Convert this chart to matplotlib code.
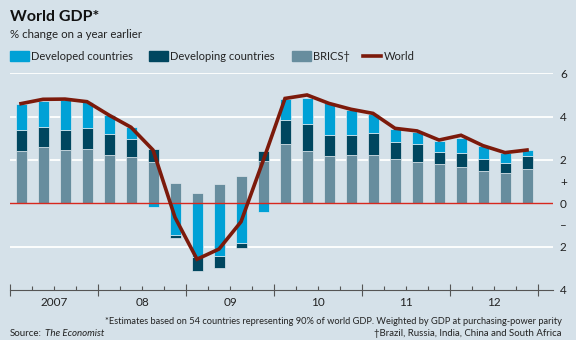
import numpy as np
import matplotlib
matplotlib.use("Agg")
import matplotlib.pyplot as plt
from matplotlib.patches import Rectangle
from matplotlib.lines import Line2D
import matplotlib.transforms as mtransforms

plt.rcParams['font.family'] = ['Lato', 'DejaVu Sans']

# quarterly data, 2007 Q1 - 2012 Q4, % change on a year earlier
quarters = np.arange(24)
brics = [2.43, 2.61, 2.45, 2.50, 2.24, 2.12, 1.92, 0.92, 0.49, 0.89, 1.26, 1.97,
         2.74, 2.40, 2.20, 2.23, 2.24, 2.04, 1.89, 1.80, 1.69, 1.50, 1.40, 1.57]
developing = [0.94, 0.91, 0.93, 0.99, 0.97, 0.83, 0.57, -0.16, -0.63, -0.57, -0.23, 0.46,
              1.10, 1.26, 0.95, 0.94, 0.99, 0.80, 0.83, 0.58, 0.65, 0.54, 0.45, 0.61]
developed = [1.21, 1.22, 1.39, 1.18, 0.85, 0.56, -0.16, -1.46, -2.49, -2.43, -1.85, -0.39,
             0.96, 1.18, 1.46, 1.14, 0.87, 0.59, 0.56, 0.51, 0.69, 0.62, 0.46, 0.28]
world = [4.60, 4.80, 4.81, 4.69, 4.07, 3.51, 2.46, -0.65, -2.58, -2.11, -0.85, 1.95,
         4.84, 5.00, 4.61, 4.34, 4.15, 3.46, 3.34, 2.92, 3.14, 2.66, 2.34, 2.46]
year_labels = ['2007', '08', '09', '10', '11', '12']

bg = '#d5e1e9'
c_developed = '#00a1d6'
c_developing = '#00465f'
c_brics = '#678d9e'
c_world = '#7c1a0b'

brics_a = np.array(brics)
dvg = np.array(developing)
dvd = np.array(developed)

# stacking: positives go up from BRICS, negatives go down from zero
dvg_bottom = np.where(dvg >= 0, brics_a, np.minimum(dvd, 0))
dvd_bottom = np.where(dvd >= 0, brics_a + np.maximum(dvg, 0), 0)

fig = plt.figure(figsize=(5.76, 3.4), dpi=100)
fig.patch.set_facecolor(bg)
ax = fig.add_axes([10 / 576, 1 - 290 / 340, (553 - 10) / 576, (290 - 73.3) / 340])
ax.set_facecolor(bg)

for y in [6, 4, 2, -2]:
    ax.axhline(y, color='white', lw=1.3, zorder=1)
ax.axhline(0, color='#d7281e', lw=1.0, zorder=3)

w = 0.5
kw = dict(width=w, edgecolor='#dfe8ee', linewidth=0.5, zorder=2)
ax.bar(quarters, brics_a, color=c_brics, **kw)
ax.bar(quarters, dvg, bottom=dvg_bottom, color=c_developing, **kw)
ax.bar(quarters, dvd, bottom=dvd_bottom, color=c_developed, **kw)
ax.plot(quarters, world, color=c_world, lw=2.6, zorder=4, solid_joinstyle='miter')

ax.set_xlim(-0.5, 24.18)
ax.set_ylim(-4, 6)

for s in ['top', 'left', 'right']:
    ax.spines[s].set_visible(False)
ax.spines['bottom'].set_color('#555555')
ax.spines['bottom'].set_linewidth(0.8)

ax.set_xticks([-0.5 + 4 * i for i in range(7)])
ax.set_xticks([-0.5 + j for j in range(25)], minor=True)
ax.set_xticklabels([])
ax.tick_params(axis='x', which='major', direction='inout', length=8, width=0.8, color='#555555')
ax.tick_params(axis='x', which='minor', direction='in', length=3, width=0.8, color='#555555')

ax.yaxis.tick_right()
ax.set_yticks([6, 4, 2, 1, 0, -1, -2, -4])
ax.set_yticklabels(['6', '4', '2', '+', '0', '\u2013', '2', '4'])
ax.tick_params(axis='y', length=0, pad=5, labelsize=8.5, labelcolor='#222222')

trans = mtransforms.blended_transform_factory(ax.transData, fig.transFigure)
for i, lab in enumerate(year_labels):
    ax.text(1.5 + 4 * i, 1 - 302 / 340, lab, transform=trans, ha='center', va='center',
            fontsize=8.5, color='#222222')

# title block
fig.text(10 / 576, 1 - 17 / 340, 'World GDP*', fontsize=11.5, fontweight='bold',
         va='center', ha='left', color='#111111')
fig.text(10 / 576, 1 - 34 / 340, '% change on a year earlier', fontsize=8.3,
         va='center', ha='left', color='#222222')

# legend
ly = 1 - 56 / 340
items = [(10, 31, c_developed, 'Developed countries', 'patch'),
         (149, 170, c_developing, 'Developing countries', 'patch'),
         (292, 313, c_brics, 'BRICS\u2020', 'patch'),
         (363, 384, c_world, 'World', 'line')]
for x0, xt, col, lab, kind in items:
    if kind == 'patch':
        fig.patches.append(Rectangle((x0 / 576, ly - 5 / 340), 19 / 576, 10 / 340,
                                     transform=fig.transFigure, color=col))
    else:
        fig.lines.append(Line2D([x0 / 576, (x0 + 18) / 576], [ly, ly],
                                transform=fig.transFigure, color=col, lw=2.6))
    fig.text(xt / 576, ly, lab, fontsize=8, va='center', ha='left', color='#222222')

# footnotes
fig.text(562 / 576, 1 - 321 / 340,
         '*Estimates based on 54 countries representing 90% of world GDP. '
         'Weighted by GDP at purchasing-power parity',
         fontsize=6.7, ha='right', va='center', color='#222222')
fig.text(562 / 576, 1 - 333 / 340, '\u2020Brazil, Russia, India, China and South Africa',
         fontsize=6.9, ha='right', va='center', color='#222222')
src = fig.text(10 / 576, 1 - 333 / 340, 'Source:', fontsize=7, ha='left', va='center',
               color='#222222')
fig.canvas.draw()
bb = src.get_window_extent(renderer=fig.canvas.get_renderer())
fig.text((bb.x1 + 3) / 576, 1 - 333 / 340, 'The Economist', fontsize=7, ha='left',
         va='center', style='italic', color='#222222')

fig.savefig('out.png', dpi=100, facecolor=bg)
